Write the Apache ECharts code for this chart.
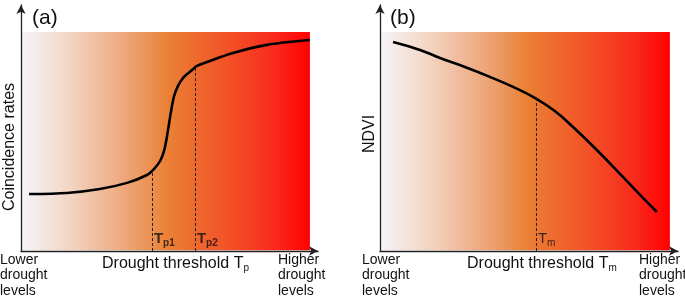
<!DOCTYPE html>
<html><head><meta charset="utf-8">
<script src="https://cdn.jsdelivr.net/npm/echarts@6/dist/echarts.min.js"></script>
<style>html,body{margin:0;padding:0;background:#fff}#c{width:685px;height:297px}</style>
</head><body><div id="c"></div>
<script>
// Panel (a): coincidence rates vs drought threshold (x: 0..100, y: 0..100 relative units)
const curveA = [[2.8,26.0],[15.9,26.5],[27.3,28.3],[36.7,31.1],[43.6,34.7],[46.0,37.4],[48.2,41.2],[49.6,46.1],[50.9,55.3],[51.9,63.5],[52.9,70.3],[54.3,75.3],[56.4,79.5],[59.2,82.6],[60.9,84.5],[64.4,86.3],[73.4,90.4],[85.1,94.1],[96.5,95.9],[100,96.3]];
const thresholdsA = [{name:'p1', x:45.3, y:36.0}, {name:'p2', x:60.2, y:84.0}];
// Panel (b): NDVI vs drought threshold
const curveB = [[4.5,95.4],[13.8,91.8],[20.7,88.1],[29.3,84.0],[37.9,79.5],[45.9,74.9],[53.4,69.9],[60.3,63.9],[66.6,56.6],[74.8,46.1],[83.8,33.8],[89.7,25.6],[95.5,17.8]];
const thresholdsB = [{name:'m', x:53.8, y:69.6}];
const bgStops = [[0,'#f5f4f9'],[0.15,'#f3d8c8'],[0.3,'#efb592'],[0.42,'#eb975f'],[0.5,'#ea8236'],[0.6,'#ee6a2e'],[0.75,'#f44a25'],[0.88,'#f9291c'],[1,'#ff0000']];

const FONT = "'Liberation Sans', Arial, sans-serif";
const chart = echarts.init(document.getElementById('c'), null, {renderer:'canvas'});

function grad(){
  return {type:'linear', x:0, y:0, x2:1, y2:0, colorStops: bgStops.map(s=>({offset:s[0], color:s[1]}))};
}
function axisX(idx){
  return {gridIndex:idx, type:'value', min:0, max:102.8, z:5,
    axisLine:{show:true, symbol:['none','arrow'], symbolSize:[7,9], lineStyle:{color:'#222', width:1.3}},
    axisTick:{show:false}, axisLabel:{show:false}, splitLine:{show:false}};
}
function axisY(idx){
  return {gridIndex:idx, type:'value', min:0, max:112.3, z:5,
    axisLine:{show:true, onZero:false, symbol:['none','arrow'], symbolSize:[7,9], lineStyle:{color:'#222', width:1.3}},
    axisTick:{show:false}, axisLabel:{show:false}, splitLine:{show:false}};
}
function curveSeries(idx, data, sm){
  return {type:'line', xAxisIndex:idx, yAxisIndex:idx, data:data, smooth:sm, symbol:'none', z:3,
    lineStyle:{color:'#000', width:2.6},
    markArea:{silent:true, itemStyle:{color:grad()}, data:[[{coord:[0.35,0.3]},{coord:[100,100]}]]}};
}
function thrLines(idx, thr){
  return {type:'line', xAxisIndex:idx, yAxisIndex:idx, data:[], z:4,
    markLine:{silent:true, symbol:['none','none'], label:{show:false},
      lineStyle:{color:'#222', width:1, type:[3,2]},
      data: thr.map(t=>[{coord:[t.x,0]},{coord:[t.x,t.y]}])}};
}
function thrLabels(idx, thr, bold){
  return {type:'scatter', xAxisIndex:idx, yAxisIndex:idx, symbolSize:0, z:6,
    data: thr.map(t=>({value:[t.x,0], name:t.name})),
    label:{show:true, position:'right', distance:2, offset:[0,-12],
      formatter: p=>'{t|T}{s|'+p.name+'}',
      rich:{t:{fontFamily:FONT, fontSize:15, fontWeight:bold?'bold':'normal', color:'#111', lineHeight:18},
            s:{fontFamily:FONT, fontSize:10, fontWeight:bold?'bold':'normal', color:'#111', lineHeight:10, verticalAlign:'bottom'}}}};
}
function txt(left, top, text, size, extra){
  return {type:'text', left:left, top:top, style:Object.assign({text:text, font:size+'px '+FONT, fill:'#111'}, extra||{})};
}
function rich(left, top, text, rich){
  return {type:'text', left:left, top:top, style:{text:text, rich:rich, fill:'#111'}};
}
const subRich = {t:{fontFamily:FONT, fontSize:16, lineHeight:18, color:'#111'}, s:{fontFamily:FONT, fontSize:10, lineHeight:10, verticalAlign:'bottom', color:'#111'}};
const lvlStyle = {lineHeight:15.5};

chart.setOption({
  animation:false,
  grid:[{left:21, top:5, width:297, height:246}, {left:380, top:5, width:298, height:246}],
  xAxis:[axisX(0), axisX(1)],
  yAxis:[axisY(0), axisY(1)],
  series:[curveSeries(0,curveA,0.3), thrLines(0,thresholdsA), thrLabels(0,thresholdsA,true),
          curveSeries(1,curveB,0.45), thrLines(1,thresholdsB), thrLabels(1,thresholdsB,false)],
  graphic:[
    txt(32, 8, '(a)', 21),
    txt(390, 8, '(b)', 21),
    {type:'text', x:2, y:147, rotation:Math.PI/2, style:{text:'Coincidence rates', font:'16px '+FONT, fill:'#111', textAlign:'center', textVerticalAlign:'top'}},
    {type:'text', x:362, y:134, rotation:Math.PI/2, style:{text:'NDVI', font:'16px '+FONT, fill:'#111', textAlign:'center', textVerticalAlign:'top'}},
    txt(0, 252, 'Lower\ndrought\nlevels', 14, lvlStyle),
    txt(278, 252, 'Higher\ndrought\nlevels', 14, lvlStyle),
    txt(362, 252, 'Lower\ndrought\nlevels', 14, lvlStyle),
    txt(639, 252, 'Higher\ndrought\nlevels', 14, lvlStyle),
    rich(102, 256, '{t|Drought threshold T}{s|p}', subRich),
    rich(467, 256, '{t|Drought threshold T}{s|m}', subRich)
  ]
});
</script></body></html>
